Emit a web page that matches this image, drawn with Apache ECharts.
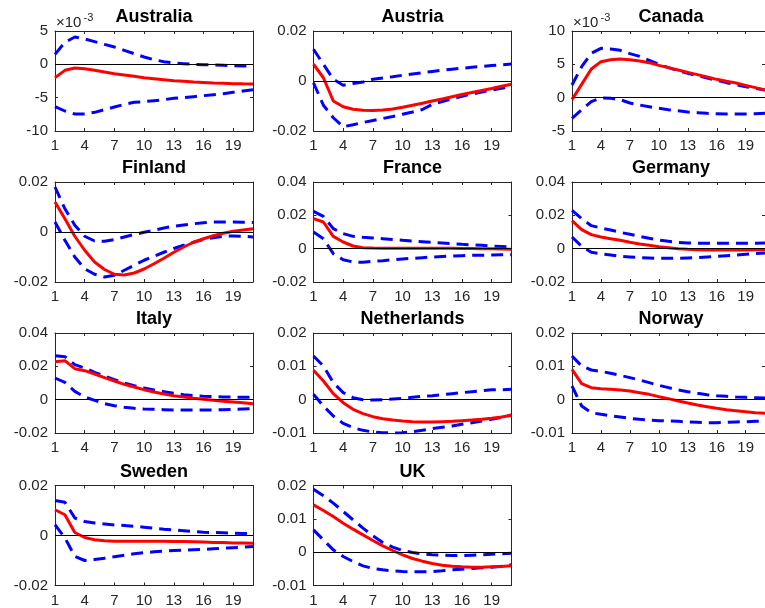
<!DOCTYPE html>
<html><head><meta charset="utf-8">
<script src="https://cdn.jsdelivr.net/npm/echarts@6/dist/echarts.min.js"></script>
<style>html,body{margin:0;padding:0;background:#fff}#c{width:765px;height:608px}</style>
</head><body><div id="c"></div>
<script>
const steps = [1,2,3,4,5,6,7,8,9,10,11,12,13,14,15,16,17,18,19,20,21];
const countries = ['Australia','Austria','Canada','Finland','France','Germany','Italy','Netherlands','Norway','Sweden','UK'];
// y axis [min, max, interval]; Australia & Canada are in units of 10^-3
const yRanges = [[-10,5,5],[-0.02,0.02,0.02],[-5,10,5],[-0.02,0.02,0.02],[-0.02,0.04,0.02],[-0.02,0.04,0.02],[-0.02,0.04,0.02],[-0.01,0.02,0.01],[-0.01,0.02,0.01],[-0.02,0.02,0.02],[-0.01,0.02,0.01]];
const exponents = ['-3',null,'-3',null,null,null,null,null,null,null,null];

// Australia (x 10^-3)
const australiaIRF   = [-2.0,-0.9,-0.55,-0.65,-0.9,-1.15,-1.4,-1.6,-1.8,-2.0,-2.15,-2.3,-2.45,-2.55,-2.65,-2.72,-2.8,-2.85,-2.9,-2.93,-2.95];
const australiaUpper = [1.5,3.3,4.1,3.8,3.4,3.0,2.6,2.1,1.6,1.1,0.7,0.4,0.2,0.1,0.0,-0.05,-0.1,-0.15,-0.2,-0.25,-0.3];
const australiaLower = [-6.35,-7.0,-7.45,-7.45,-7.2,-6.8,-6.4,-6.0,-5.7,-5.6,-5.45,-5.3,-5.1,-5.0,-4.85,-4.7,-4.55,-4.4,-4.2,-4.0,-3.8];
// Austria
const austriaIRF   = [0.0067,0.0013,-0.008,-0.0103,-0.0113,-0.0117,-0.0118,-0.0116,-0.0112,-0.0105,-0.0097,-0.0089,-0.008,-0.0072,-0.0063,-0.0054,-0.0046,-0.0038,-0.003,-0.0021,-0.0013];
const austriaUpper = [0.0127,0.0067,0.0007,-0.0017,-0.001,-0.0004,0.0007,0.0012,0.0017,0.0023,0.0028,0.0033,0.0038,0.0043,0.0047,0.0051,0.0055,0.0058,0.0062,0.0065,0.0068];
const austriaLower = [-0.0007,-0.0097,-0.0147,-0.0183,-0.0175,-0.0166,-0.0158,-0.015,-0.0142,-0.0133,-0.0124,-0.0114,-0.0093,-0.0082,-0.0071,-0.0061,-0.0052,-0.0044,-0.0036,-0.0029,-0.0022];
// Canada (x 10^-3)
const canadaIRF   = [-0.3,2.0,4.3,5.4,5.7,5.8,5.7,5.5,5.25,4.85,4.5,4.15,3.8,3.45,3.1,2.75,2.45,2.2,1.85,1.5,1.15];
const canadaUpper = [1.9,4.65,6.65,7.4,7.3,7.1,6.6,6.2,5.6,5.0,4.5,4.05,3.65,3.3,2.95,2.6,2.25,1.95,1.65,1.4,1.15];
const canadaLower = [-3.1,-1.8,-0.6,-0.05,-0.1,-0.3,-0.8,-1.1,-1.35,-1.6,-1.8,-1.95,-2.15,-2.25,-2.35,-2.4,-2.45,-2.45,-2.45,-2.4,-2.35];
// Finland
const finlandIRF   = [0.012,0.0053,-0.0017,-0.0073,-0.012,-0.015,-0.0169,-0.0172,-0.0164,-0.0148,-0.0127,-0.0105,-0.0081,-0.006,-0.0041,-0.0027,-0.0015,-0.0005,0.0003,0.0008,0.0013];
const finlandUpper = [0.018,0.0093,0.0027,-0.0017,-0.0036,-0.0037,-0.003,-0.002,-0.001,-0.0001,0.0007,0.0016,0.0023,0.0028,0.0033,0.0037,0.004,0.004,0.004,0.0039,0.0038];
const finlandLower = [0.004,-0.0033,-0.01,-0.0147,-0.0169,-0.018,-0.0173,-0.0153,-0.0133,-0.0113,-0.0097,-0.0081,-0.0066,-0.0053,-0.0041,-0.003,-0.0023,-0.0017,-0.0016,-0.0017,-0.002];
// France
const franceIRF   = [0.018,0.016,0.0074,0.004,0.0016,0.0006,0.0004,0.0003,0.0003,0.0003,0.0003,0.0003,0.0002,0.0002,0.0002,0.0001,0.0001,0,0,-0.0002,-0.0003];
const franceUpper = [0.0224,0.0194,0.012,0.009,0.0074,0.0068,0.0064,0.006,0.0055,0.005,0.0046,0.0042,0.0038,0.0034,0.003,0.0026,0.0023,0.002,0.0016,0.0013,0.001];
const franceLower = [0.01,0.006,-0.003,-0.0066,-0.008,-0.0082,-0.0076,-0.0072,-0.0067,-0.0062,-0.0058,-0.0054,-0.005,-0.0047,-0.0044,-0.0042,-0.004,-0.0039,-0.0038,-0.0037,-0.0036];
// Germany
const germanyIRF   = [0.0168,0.0114,0.0084,0.007,0.006,0.005,0.0038,0.0028,0.002,0.0012,0.0006,0,-0.0004,-0.0006,-0.0008,-0.0008,-0.0008,-0.0008,-0.0008,-0.0007,-0.0006];
const germanyUpper = [0.023,0.018,0.0138,0.0124,0.0112,0.0098,0.0086,0.0074,0.0062,0.0052,0.0044,0.0038,0.0034,0.0032,0.0032,0.0032,0.0032,0.0032,0.0033,0.0033,0.0034];
const germanyLower = [0.007,0.0014,-0.0022,-0.003,-0.0038,-0.0046,-0.005,-0.0054,-0.0056,-0.0058,-0.0058,-0.0058,-0.0056,-0.0054,-0.005,-0.0046,-0.0042,-0.0038,-0.0034,-0.003,-0.0026];
// Italy
const italyIRF   = [0.0228,0.0234,0.0186,0.0174,0.0154,0.0132,0.0112,0.0092,0.0076,0.006,0.0046,0.0034,0.0024,0.0016,0.0008,0.0002,-0.0004,-0.001,-0.0014,-0.0018,-0.0024];
const italyUpper = [0.0264,0.0258,0.021,0.019,0.0164,0.0142,0.012,0.01,0.0084,0.007,0.0058,0.0048,0.0038,0.003,0.0024,0.002,0.0018,0.0016,0.0016,0.0014,0.0014];
const italyLower = [0.013,0.0104,0.005,0.0016,-0.0004,-0.0024,-0.0036,-0.0046,-0.0052,-0.0056,-0.0058,-0.006,-0.0062,-0.0062,-0.0062,-0.0062,-0.0062,-0.006,-0.0058,-0.0056,-0.0054];
// Netherlands
const netherlandsIRF   = [0.0088,0.0056,0.0018,-0.0009,-0.0029,-0.0042,-0.0051,-0.0057,-0.0061,-0.0064,-0.0066,-0.0067,-0.0067,-0.0066,-0.0065,-0.0063,-0.0061,-0.0059,-0.0056,-0.0052,-0.0047];
const netherlandsUpper = [0.0131,0.0101,0.0051,0.0021,0.0006,0,-0.0001,0,0.0002,0.0004,0.0007,0.001,0.0012,0.0015,0.0018,0.0021,0.0024,0.0027,0.003,0.003,0.0031];
const netherlandsLower = [0.0016,-0.0019,-0.0049,-0.0071,-0.0084,-0.0092,-0.0097,-0.0099,-0.01,-0.0099,-0.0096,-0.0092,-0.0087,-0.0083,-0.0079,-0.0074,-0.0069,-0.0064,-0.0059,-0.0053,-0.0046];
// Norway
const norwayIRF   = [0.0091,0.0048,0.0036,0.0033,0.0031,0.0029,0.0026,0.0021,0.0016,0.0009,0.0003,-0.0004,-0.001,-0.0016,-0.0021,-0.0026,-0.003,-0.0033,-0.0036,-0.0039,-0.0041];
const norwayUpper = [0.0131,0.0101,0.0089,0.0085,0.0079,0.0073,0.0066,0.0059,0.0051,0.0043,0.0036,0.0029,0.0024,0.0019,0.0015,0.0012,0.001,0.0008,0.0007,0.0006,0.0005];
const norwayLower = [0.0041,-0.0019,-0.0039,-0.0044,-0.0048,-0.0052,-0.0056,-0.0059,-0.0061,-0.0063,-0.0064,-0.0065,-0.0067,-0.0068,-0.0069,-0.0069,-0.0068,-0.0067,-0.0066,-0.0065,-0.0064];
// Sweden
const swedenIRF   = [0.0103,0.0083,0.0012,-0.0008,-0.0017,-0.0021,-0.0023,-0.0023,-0.0023,-0.0023,-0.0023,-0.0023,-0.0024,-0.0024,-0.0025,-0.0026,-0.0028,-0.0028,-0.003,-0.003,-0.0031];
const swedenUpper = [0.014,0.0133,0.007,0.0056,0.005,0.0046,0.0042,0.004,0.0037,0.0033,0.0029,0.0025,0.0022,0.0019,0.0016,0.0013,0.0012,0.0011,0.0009,0.0008,0.0007];
const swedenLower = [0.0043,-0.0009,-0.0083,-0.01,-0.0096,-0.0091,-0.0085,-0.0079,-0.0073,-0.0069,-0.0065,-0.0063,-0.006,-0.0059,-0.0057,-0.0056,-0.0053,-0.0051,-0.0049,-0.0047,-0.0044];
// UK
const ukIRF   = [0.0142,0.0125,0.0107,0.0087,0.0069,0.0052,0.0035,0.0019,0.0005,-0.0008,-0.0019,-0.0027,-0.0034,-0.0039,-0.0042,-0.0044,-0.0045,-0.0045,-0.0044,-0.0043,-0.0041];
const ukUpper = [0.0189,0.0169,0.0147,0.0122,0.0097,0.0072,0.0049,0.0029,0.0015,0.0005,-0.0001,-0.0005,-0.0008,-0.0009,-0.001,-0.001,-0.0009,-0.0008,-0.0006,-0.0005,-0.0003];
const ukLower = [0.0067,0.0037,0.0007,-0.0013,-0.0028,-0.0041,-0.0049,-0.0053,-0.0056,-0.0058,-0.0059,-0.0059,-0.0058,-0.0056,-0.0053,-0.0051,-0.0049,-0.0047,-0.0045,-0.0042,-0.0038];

const irfs   = [australiaIRF,austriaIRF,canadaIRF,finlandIRF,franceIRF,germanyIRF,italyIRF,netherlandsIRF,norwayIRF,swedenIRF,ukIRF];
const uppers = [australiaUpper,austriaUpper,canadaUpper,finlandUpper,franceUpper,germanyUpper,italyUpper,netherlandsUpper,norwayUpper,swedenUpper,ukUpper];
const lowers = [australiaLower,austriaLower,canadaLower,finlandLower,franceLower,germanyLower,italyLower,netherlandsLower,norwayLower,swedenLower,ukLower];

const FONT = "'Liberation Sans', Arial, Helvetica, sans-serif";
const AX = '#262626';
const lefts = [55, 313.5, 572], tops = [31, 182, 333, 485.5], W = 198, H = 100;
const grid = [], xAxis = [], yAxis = [], series = [], title = [], graphic = [];
const every3 = (idx) => idx % 3 === 0;

countries.forEach((name, i) => {
  const r = Math.floor(i / 3), c = i % 3;
  const L = lefts[c], T = tops[r];
  grid.push({left: L, top: T, width: W, height: H});
  const [mn, mx, iv] = yRanges[i];
  const xBase = {
    type: 'category', data: steps.map(String), boundaryGap: false, gridIndex: i,
    axisLine: {show: true, onZero: false, lineStyle: {color: AX, width: 1}},
    axisTick: {show: true, inside: true, length: 3, interval: every3, lineStyle: {color: AX}},
    splitLine: {show: false}
  };
  xAxis.push(Object.assign({}, xBase, {position: 'bottom',
    axisLabel: {show: true, interval: every3, margin: 7.5, color: AX, fontSize: 15, fontFamily: FONT}}));
  xAxis.push(Object.assign({}, xBase, {position: 'top', axisLabel: {show: false}}));
  const yBase = {
    type: 'value', min: mn, max: mx, interval: iv, gridIndex: i,
    axisLine: {show: true, onZero: false, lineStyle: {color: AX, width: 1}},
    axisTick: {show: true, inside: true, length: 3, lineStyle: {color: AX}},
    splitLine: {show: false}
  };
  yAxis.push(Object.assign({}, yBase, {position: 'left',
    axisLabel: {show: true, margin: 7, color: AX, fontSize: 15, fontFamily: FONT,
      formatter: v => String(parseFloat(Number(v).toFixed(4)))}}));
  yAxis.push(Object.assign({}, yBase, {position: 'right', axisLabel: {show: false}}));

  const xi = 2 * i, yi = 2 * i;
  series.push({
    type: 'line', xAxisIndex: xi, yAxisIndex: yi, data: uppers[i], symbol: 'none', z: 2,
    lineStyle: {color: '#0000ff', width: 3, type: [12, 7]}, silent: true,
    markLine: {silent: true, symbol: 'none', label: {show: false},
      lineStyle: {color: '#000', width: 1, type: 'solid'}, data: [{yAxis: 0}]}
  });
  series.push({
    type: 'line', xAxisIndex: xi, yAxisIndex: yi, data: lowers[i], symbol: 'none', z: 2,
    lineStyle: {color: '#0000ff', width: 3, type: [12, 7]}, silent: true
  });
  series.push({
    type: 'line', xAxisIndex: xi, yAxisIndex: yi, data: irfs[i], symbol: 'none', z: 3,
    lineStyle: {color: '#ff0000', width: 3}, silent: true
  });

  title.push({text: name, left: L + W / 2, top: T - 22.5, textAlign: 'center', padding: 0,
    textStyle: {fontSize: 18, fontWeight: 'bold', color: '#000', fontFamily: FONT}});

  if (exponents[i]) {
    graphic.push({type: 'text', x: L + 1, y: T - 8,
      style: {text: '×10', fill: AX, font: '15px ' + FONT, verticalAlign: 'middle', align: 'left'}});
    graphic.push({type: 'text', x: L + 28.5, y: T - 13.5,
      style: {text: exponents[i], fill: AX, font: '11px ' + FONT, verticalAlign: 'middle', align: 'left'}});
  }
});

const chart = echarts.init(document.getElementById('c'), null, {renderer: 'canvas'});
chart.setOption({animation: false, backgroundColor: '#fff', title, grid, xAxis, yAxis, series, graphic});
</script>
</body></html>
